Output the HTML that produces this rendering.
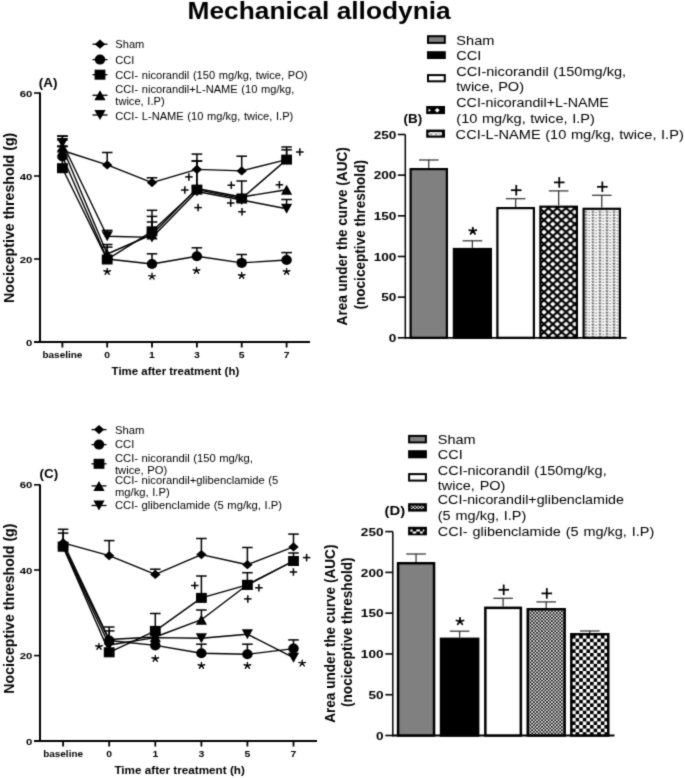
<!DOCTYPE html><html><head><meta charset="utf-8"><style>html,body{margin:0;padding:0;background:#fff;}svg{display:block}</style></head><body>
<svg width="685" height="778" viewBox="0 0 685 778" font-family="Liberation Sans, sans-serif">
<defs>
<pattern id="pxh" patternUnits="userSpaceOnUse" width="8.8" height="8" x="544.0" y="248.1"><rect width="8.8" height="8" fill="#000"/><polygon points="1.65,4 4.4,1.55 7.15,4 4.4,6.45" fill="#fff"/><polygon points="-2.75,0 0,-2.45 2.75,0 0,2.45" fill="#fff"/><polygon points="6.05,0 8.8,-2.45 11.55,0 8.8,2.45" fill="#fff"/><polygon points="-2.75,8 0,5.55 2.75,8 0,10.45" fill="#fff"/><polygon points="6.05,8 8.8,5.55 11.55,8 8.8,10.45" fill="#fff"/></pattern>
<pattern id="pdot" patternUnits="userSpaceOnUse" width="7.05" height="6.1" x="584" y="250"><rect width="7.05" height="6.1" fill="#fff"/><path d="M0.6,0.6 L1.8,2.3 L3.0,0.6 M0.6,3.65 L1.8,5.35 L3.0,3.65 M4.2,2.0 H6.2 M4.2,5.05 H6.2" stroke="#606060" stroke-width="1.0" fill="none"/></pattern>
<pattern id="pfc" patternUnits="userSpaceOnUse" width="3.3" height="3.3"><rect width="3.3" height="3.3" fill="#fff"/><rect width="1.65" height="1.65" fill="#000"/><rect x="1.65" y="1.65" width="1.65" height="1.65" fill="#000"/></pattern>
<pattern id="pcc" patternUnits="userSpaceOnUse" width="7.2" height="7.2" x="572" y="635"><rect width="7.2" height="7.2" fill="#fff"/><rect width="3.6" height="3.6" fill="#000"/><rect x="3.6" y="3.6" width="3.6" height="3.6" fill="#000"/></pattern>
<filter id="soft" x="-1%" y="-1%" width="102%" height="102%" color-interpolation-filters="sRGB"><feConvolveMatrix order="3" kernelMatrix="0.0250 0.1000 0.0250 0.1000 0.5000 0.1000 0.0250 0.1000 0.0250" divisor="1" edgeMode="duplicate" preserveAlpha="true"/></filter>
</defs>
<g filter="url(#soft)"><rect x="-20" y="-20" width="725" height="818" fill="#fff"/>
<text font-size="24.6" font-weight="bold" transform="translate(187.50 18.80) scale(1.07 1)" >Mechanical allodynia</text>
<line x1="40.00" y1="92.50" x2="40.00" y2="342.90" stroke="#000" stroke-width="2.0"/>
<line x1="34.00" y1="342.00" x2="310.00" y2="342.00" stroke="#000" stroke-width="1.8"/>
<line x1="34.00" y1="93.00" x2="40.00" y2="93.00" stroke="#000" stroke-width="1.6"/>
<text font-size="9.7" font-weight="bold" text-anchor="end" transform="translate(32.40 96.60) scale(1.17 1)" >60</text>
<line x1="34.00" y1="176.00" x2="40.00" y2="176.00" stroke="#000" stroke-width="1.6"/>
<text font-size="9.7" font-weight="bold" text-anchor="end" transform="translate(32.40 179.60) scale(1.17 1)" >40</text>
<line x1="34.00" y1="259.00" x2="40.00" y2="259.00" stroke="#000" stroke-width="1.6"/>
<text font-size="9.7" font-weight="bold" text-anchor="end" transform="translate(32.40 262.60) scale(1.17 1)" >20</text>
<line x1="34.00" y1="342.00" x2="40.00" y2="342.00" stroke="#000" stroke-width="1.6"/>
<text font-size="9.7" font-weight="bold" text-anchor="end" transform="translate(32.40 345.60) scale(1.17 1)" >0</text>
<line x1="62.40" y1="342.00" x2="62.40" y2="347.50" stroke="#000" stroke-width="1.8"/>
<text font-size="8.9" font-weight="bold" text-anchor="middle" transform="translate(62.40 357.60) scale(1.12 1)" >baseline</text>
<line x1="107.20" y1="342.00" x2="107.20" y2="347.50" stroke="#000" stroke-width="1.8"/>
<text font-size="8.9" font-weight="bold" text-anchor="middle" transform="translate(107.20 357.60) scale(1.17 1)" >0</text>
<line x1="152.00" y1="342.00" x2="152.00" y2="347.50" stroke="#000" stroke-width="1.8"/>
<text font-size="8.9" font-weight="bold" text-anchor="middle" transform="translate(152.00 357.60) scale(1.17 1)" >1</text>
<line x1="196.90" y1="342.00" x2="196.90" y2="347.50" stroke="#000" stroke-width="1.8"/>
<text font-size="8.9" font-weight="bold" text-anchor="middle" transform="translate(196.90 357.60) scale(1.17 1)" >3</text>
<line x1="241.70" y1="342.00" x2="241.70" y2="347.50" stroke="#000" stroke-width="1.8"/>
<text font-size="8.9" font-weight="bold" text-anchor="middle" transform="translate(241.70 357.60) scale(1.17 1)" >5</text>
<line x1="286.60" y1="342.00" x2="286.60" y2="347.50" stroke="#000" stroke-width="1.8"/>
<text font-size="8.9" font-weight="bold" text-anchor="middle" transform="translate(286.60 357.60) scale(1.17 1)" >7</text>
<text font-size="10.7" font-weight="bold" transform="translate(111.60 374.70) scale(1.07 1)" >Time after treatment (h)</text>
<text font-size="14.2" font-weight="bold" text-anchor="middle" transform="translate(13.80 217.80) scale(1.07 1) rotate(-90)" >Nociceptive threshold (g)</text>
<text font-size="12.6" font-weight="bold" transform="translate(38.80 87.00) scale(1.07 1)" >(A)</text>
<polyline points="62.40,150.50 107.20,164.90 152.00,182.60 196.90,169.40 241.70,170.90 286.60,159.60" fill="none" stroke="#000" stroke-width="1.4" stroke-linejoin="round"/>
<line x1="62.40" y1="150.50" x2="62.40" y2="136.00" stroke="#000" stroke-width="1.5"/>
<line x1="57.10" y1="136.00" x2="67.70" y2="136.00" stroke="#000" stroke-width="1.5"/>
<line x1="107.20" y1="164.90" x2="107.20" y2="152.50" stroke="#000" stroke-width="1.5"/>
<line x1="101.90" y1="152.50" x2="112.50" y2="152.50" stroke="#000" stroke-width="1.5"/>
<line x1="152.00" y1="182.60" x2="152.00" y2="177.80" stroke="#000" stroke-width="1.5"/>
<line x1="146.70" y1="177.80" x2="157.30" y2="177.80" stroke="#000" stroke-width="1.5"/>
<line x1="196.90" y1="169.40" x2="196.90" y2="154.10" stroke="#000" stroke-width="1.5"/>
<line x1="191.60" y1="154.10" x2="202.20" y2="154.10" stroke="#000" stroke-width="1.5"/>
<line x1="241.70" y1="170.90" x2="241.70" y2="156.20" stroke="#000" stroke-width="1.5"/>
<line x1="236.40" y1="156.20" x2="247.00" y2="156.20" stroke="#000" stroke-width="1.5"/>
<line x1="286.60" y1="159.60" x2="286.60" y2="147.00" stroke="#000" stroke-width="1.5"/>
<line x1="281.30" y1="147.00" x2="291.90" y2="147.00" stroke="#000" stroke-width="1.5"/>
<polygon points="57.20,150.50 62.40,145.90 67.60,150.50 62.40,155.10"/>
<polygon points="102.00,164.90 107.20,160.30 112.40,164.90 107.20,169.50"/>
<polygon points="146.80,182.60 152.00,178.00 157.20,182.60 152.00,187.20"/>
<polygon points="191.70,169.40 196.90,164.80 202.10,169.40 196.90,174.00"/>
<polygon points="236.50,170.90 241.70,166.30 246.90,170.90 241.70,175.50"/>
<polygon points="281.40,159.60 286.60,155.00 291.80,159.60 286.60,164.20"/>
<polyline points="62.40,156.50 107.20,259.00 152.00,264.00 196.90,256.30 241.70,262.90 286.60,260.00" fill="none" stroke="#000" stroke-width="1.4" stroke-linejoin="round"/>
<line x1="62.40" y1="156.50" x2="62.40" y2="146.00" stroke="#000" stroke-width="1.5"/>
<line x1="57.10" y1="146.00" x2="67.70" y2="146.00" stroke="#000" stroke-width="1.5"/>
<line x1="152.00" y1="264.00" x2="152.00" y2="253.80" stroke="#000" stroke-width="1.5"/>
<line x1="146.70" y1="253.80" x2="157.30" y2="253.80" stroke="#000" stroke-width="1.5"/>
<line x1="196.90" y1="256.30" x2="196.90" y2="247.80" stroke="#000" stroke-width="1.5"/>
<line x1="191.60" y1="247.80" x2="202.20" y2="247.80" stroke="#000" stroke-width="1.5"/>
<line x1="241.70" y1="262.90" x2="241.70" y2="254.50" stroke="#000" stroke-width="1.5"/>
<line x1="236.40" y1="254.50" x2="247.00" y2="254.50" stroke="#000" stroke-width="1.5"/>
<line x1="286.60" y1="260.00" x2="286.60" y2="252.60" stroke="#000" stroke-width="1.5"/>
<line x1="281.30" y1="252.60" x2="291.90" y2="252.60" stroke="#000" stroke-width="1.5"/>
<ellipse cx="62.40" cy="156.50" rx="5.20" ry="5.00"/>
<ellipse cx="107.20" cy="259.00" rx="5.20" ry="5.00"/>
<ellipse cx="152.00" cy="264.00" rx="5.20" ry="5.00"/>
<ellipse cx="196.90" cy="256.30" rx="5.20" ry="5.00"/>
<ellipse cx="241.70" cy="262.90" rx="5.20" ry="5.00"/>
<ellipse cx="286.60" cy="260.00" rx="5.20" ry="5.00"/>
<polyline points="62.40,147.50 107.20,254.00 152.00,234.50 196.90,188.50 241.70,197.00 286.60,189.70" fill="none" stroke="#000" stroke-width="1.4" stroke-linejoin="round"/>
<line x1="62.40" y1="147.50" x2="62.40" y2="140.00" stroke="#000" stroke-width="1.5"/>
<line x1="57.10" y1="140.00" x2="67.70" y2="140.00" stroke="#000" stroke-width="1.5"/>
<line x1="107.20" y1="254.00" x2="107.20" y2="244.50" stroke="#000" stroke-width="1.5"/>
<line x1="101.90" y1="244.50" x2="112.50" y2="244.50" stroke="#000" stroke-width="1.5"/>
<line x1="152.00" y1="234.50" x2="152.00" y2="216.40" stroke="#000" stroke-width="1.5"/>
<line x1="146.70" y1="216.40" x2="157.30" y2="216.40" stroke="#000" stroke-width="1.5"/>
<line x1="196.90" y1="188.50" x2="196.90" y2="161.00" stroke="#000" stroke-width="1.5"/>
<line x1="191.60" y1="161.00" x2="202.20" y2="161.00" stroke="#000" stroke-width="1.5"/>
<polygon points="56.80,152.50 62.40,142.50 68.00,152.50"/>
<polygon points="101.60,259.00 107.20,249.00 112.80,259.00"/>
<polygon points="146.40,239.50 152.00,229.50 157.60,239.50"/>
<polygon points="191.30,193.50 196.90,183.50 202.50,193.50"/>
<polygon points="236.10,202.00 241.70,192.00 247.30,202.00"/>
<polygon points="281.00,194.70 286.60,184.70 292.20,194.70"/>
<polyline points="62.40,143.00 107.20,236.20 152.00,237.40 196.90,191.50 241.70,200.00 286.60,208.70" fill="none" stroke="#000" stroke-width="1.4" stroke-linejoin="round"/>
<line x1="62.40" y1="143.00" x2="62.40" y2="136.20" stroke="#000" stroke-width="1.5"/>
<line x1="57.10" y1="136.20" x2="67.70" y2="136.20" stroke="#000" stroke-width="1.5"/>
<line x1="107.20" y1="236.20" x2="107.20" y2="230.40" stroke="#000" stroke-width="1.5"/>
<line x1="101.90" y1="230.40" x2="112.50" y2="230.40" stroke="#000" stroke-width="1.5"/>
<line x1="152.00" y1="237.40" x2="152.00" y2="222.00" stroke="#000" stroke-width="1.5"/>
<line x1="146.70" y1="222.00" x2="157.30" y2="222.00" stroke="#000" stroke-width="1.5"/>
<line x1="286.60" y1="208.70" x2="286.60" y2="199.50" stroke="#000" stroke-width="1.5"/>
<line x1="281.30" y1="199.50" x2="291.90" y2="199.50" stroke="#000" stroke-width="1.5"/>
<polygon points="56.80,138.00 62.40,148.00 68.00,138.00"/>
<polygon points="101.60,231.20 107.20,241.20 112.80,231.20"/>
<polygon points="146.40,232.40 152.00,242.40 157.60,232.40"/>
<polygon points="191.30,186.50 196.90,196.50 202.50,186.50"/>
<polygon points="236.10,195.00 241.70,205.00 247.30,195.00"/>
<polygon points="281.00,203.70 286.60,213.70 292.20,203.70"/>
<polyline points="62.40,168.20 107.20,259.50 152.00,231.30 196.90,189.60 241.70,198.50 286.60,159.60" fill="none" stroke="#000" stroke-width="1.4" stroke-linejoin="round"/>
<line x1="62.40" y1="168.20" x2="62.40" y2="146.60" stroke="#000" stroke-width="1.5"/>
<line x1="57.10" y1="146.60" x2="67.70" y2="146.60" stroke="#000" stroke-width="1.5"/>
<line x1="107.20" y1="259.50" x2="107.20" y2="247.10" stroke="#000" stroke-width="1.5"/>
<line x1="101.90" y1="247.10" x2="112.50" y2="247.10" stroke="#000" stroke-width="1.5"/>
<line x1="152.00" y1="231.30" x2="152.00" y2="210.30" stroke="#000" stroke-width="1.5"/>
<line x1="146.70" y1="210.30" x2="157.30" y2="210.30" stroke="#000" stroke-width="1.5"/>
<line x1="196.90" y1="189.60" x2="196.90" y2="161.00" stroke="#000" stroke-width="1.5"/>
<line x1="191.60" y1="161.00" x2="202.20" y2="161.00" stroke="#000" stroke-width="1.5"/>
<line x1="241.70" y1="198.50" x2="241.70" y2="181.00" stroke="#000" stroke-width="1.5"/>
<line x1="236.40" y1="181.00" x2="247.00" y2="181.00" stroke="#000" stroke-width="1.5"/>
<line x1="286.60" y1="159.60" x2="286.60" y2="149.80" stroke="#000" stroke-width="1.5"/>
<line x1="281.30" y1="149.80" x2="291.90" y2="149.80" stroke="#000" stroke-width="1.5"/>
<rect x="57.00" y="163.20" width="10.80" height="10.00"/>
<rect x="101.80" y="254.50" width="10.80" height="10.00"/>
<rect x="146.60" y="226.30" width="10.80" height="10.00"/>
<rect x="191.50" y="184.60" width="10.80" height="10.00"/>
<rect x="236.30" y="193.50" width="10.80" height="10.00"/>
<rect x="281.20" y="154.60" width="10.80" height="10.00"/>
<path d="M107.20,271.50L107.20,268.40M107.20,271.50L103.90,270.75M107.20,271.50L110.50,270.75M107.20,271.50L105.10,274.25M107.20,271.50L109.30,274.25" stroke="#000" stroke-width="1.3" stroke-linecap="round" fill="none"/>
<path d="M152.00,276.30L152.00,273.20M152.00,276.30L148.70,275.55M152.00,276.30L155.30,275.55M152.00,276.30L149.90,279.05M152.00,276.30L154.10,279.05" stroke="#000" stroke-width="1.3" stroke-linecap="round" fill="none"/>
<path d="M196.50,270.50L196.50,267.40M196.50,270.50L193.20,269.75M196.50,270.50L199.80,269.75M196.50,270.50L194.40,273.25M196.50,270.50L198.60,273.25" stroke="#000" stroke-width="1.3" stroke-linecap="round" fill="none"/>
<path d="M241.70,275.50L241.70,272.40M241.70,275.50L238.40,274.75M241.70,275.50L245.00,274.75M241.70,275.50L239.60,278.25M241.70,275.50L243.80,278.25" stroke="#000" stroke-width="1.3" stroke-linecap="round" fill="none"/>
<path d="M286.60,271.50L286.60,268.40M286.60,271.50L283.30,270.75M286.60,271.50L289.90,270.75M286.60,271.50L284.50,274.25M286.60,271.50L288.70,274.25" stroke="#000" stroke-width="1.3" stroke-linecap="round" fill="none"/>
<line x1="185.15" y1="176.90" x2="192.65" y2="176.90" stroke="#000" stroke-width="1.5"/>
<line x1="188.90" y1="173.15" x2="188.90" y2="180.65" stroke="#000" stroke-width="1.5"/>
<line x1="181.05" y1="190.00" x2="188.55" y2="190.00" stroke="#000" stroke-width="1.5"/>
<line x1="184.80" y1="186.25" x2="184.80" y2="193.75" stroke="#000" stroke-width="1.5"/>
<line x1="194.35" y1="207.60" x2="201.85" y2="207.60" stroke="#000" stroke-width="1.5"/>
<line x1="198.10" y1="203.85" x2="198.10" y2="211.35" stroke="#000" stroke-width="1.5"/>
<line x1="227.55" y1="185.20" x2="235.05" y2="185.20" stroke="#000" stroke-width="1.5"/>
<line x1="231.30" y1="181.45" x2="231.30" y2="188.95" stroke="#000" stroke-width="1.5"/>
<line x1="226.95" y1="203.00" x2="234.45" y2="203.00" stroke="#000" stroke-width="1.5"/>
<line x1="230.70" y1="199.25" x2="230.70" y2="206.75" stroke="#000" stroke-width="1.5"/>
<line x1="238.25" y1="211.80" x2="245.75" y2="211.80" stroke="#000" stroke-width="1.5"/>
<line x1="242.00" y1="208.05" x2="242.00" y2="215.55" stroke="#000" stroke-width="1.5"/>
<line x1="296.05" y1="152.00" x2="303.55" y2="152.00" stroke="#000" stroke-width="1.5"/>
<line x1="299.80" y1="148.25" x2="299.80" y2="155.75" stroke="#000" stroke-width="1.5"/>
<line x1="275.65" y1="184.80" x2="283.15" y2="184.80" stroke="#000" stroke-width="1.5"/>
<line x1="279.40" y1="181.05" x2="279.40" y2="188.55" stroke="#000" stroke-width="1.5"/>
<line x1="92.50" y1="44.20" x2="107.50" y2="44.20" stroke="#000" stroke-width="1.3"/>
<polygon points="94.80,44.20 100.00,39.60 105.20,44.20 100.00,48.80"/>
<line x1="92.50" y1="59.60" x2="107.50" y2="59.60" stroke="#000" stroke-width="1.3"/>
<ellipse cx="100.00" cy="59.60" rx="5.20" ry="5.00"/>
<line x1="92.50" y1="74.70" x2="107.50" y2="74.70" stroke="#000" stroke-width="1.3"/>
<rect x="94.60" y="69.70" width="10.80" height="10.00"/>
<line x1="92.50" y1="95.30" x2="107.50" y2="95.30" stroke="#000" stroke-width="1.3"/>
<polygon points="94.40,100.30 100.00,90.30 105.60,100.30"/>
<line x1="92.50" y1="115.00" x2="107.50" y2="115.00" stroke="#000" stroke-width="1.3"/>
<polygon points="94.40,110.00 100.00,120.00 105.60,110.00"/>
<text font-size="10.3" word-spacing="0.5" transform="translate(115.30 48.00) scale(1.08 1)" >Sham</text>
<text font-size="10.3" word-spacing="0.5" transform="translate(115.30 63.70) scale(1.08 1)" >CCI</text>
<text font-size="10.3" word-spacing="0.5" transform="translate(115.30 79.10) scale(1.08 1)" >CCI- nicorandil (150 mg/kg, twice, PO)</text>
<text font-size="10.3" word-spacing="0.5" transform="translate(115.30 93.20) scale(1.08 1)" >CCI- nicorandil+L-NAME (10 mg/kg,</text>
<text font-size="10.3" word-spacing="0.5" transform="translate(115.30 105.30) scale(1.08 1)" >twice, I.P)</text>
<text font-size="10.3" word-spacing="0.5" transform="translate(115.30 119.90) scale(1.08 1)" >CCI- L-NAME (10 mg/kg, twice, I.P)</text>
<line x1="40.00" y1="484.60" x2="40.00" y2="741.90" stroke="#000" stroke-width="2.0"/>
<line x1="34.00" y1="741.00" x2="317.00" y2="741.00" stroke="#000" stroke-width="1.8"/>
<line x1="34.00" y1="484.80" x2="40.00" y2="484.80" stroke="#000" stroke-width="1.6"/>
<text font-size="9.7" font-weight="bold" text-anchor="end" transform="translate(32.40 488.40) scale(1.17 1)" >60</text>
<line x1="34.00" y1="570.00" x2="40.00" y2="570.00" stroke="#000" stroke-width="1.6"/>
<text font-size="9.7" font-weight="bold" text-anchor="end" transform="translate(32.40 573.60) scale(1.17 1)" >40</text>
<line x1="34.00" y1="655.60" x2="40.00" y2="655.60" stroke="#000" stroke-width="1.6"/>
<text font-size="9.7" font-weight="bold" text-anchor="end" transform="translate(32.40 659.20) scale(1.17 1)" >20</text>
<line x1="34.00" y1="741.00" x2="40.00" y2="741.00" stroke="#000" stroke-width="1.6"/>
<text font-size="9.7" font-weight="bold" text-anchor="end" transform="translate(32.40 744.60) scale(1.17 1)" >0</text>
<line x1="63.10" y1="741.00" x2="63.10" y2="746.50" stroke="#000" stroke-width="1.8"/>
<text font-size="8.9" font-weight="bold" text-anchor="middle" transform="translate(63.10 757.00) scale(1.12 1)" >baseline</text>
<line x1="109.20" y1="741.00" x2="109.20" y2="746.50" stroke="#000" stroke-width="1.8"/>
<text font-size="8.9" font-weight="bold" text-anchor="middle" transform="translate(109.20 757.00) scale(1.17 1)" >0</text>
<line x1="155.30" y1="741.00" x2="155.30" y2="746.50" stroke="#000" stroke-width="1.8"/>
<text font-size="8.9" font-weight="bold" text-anchor="middle" transform="translate(155.30 757.00) scale(1.17 1)" >1</text>
<line x1="201.40" y1="741.00" x2="201.40" y2="746.50" stroke="#000" stroke-width="1.8"/>
<text font-size="8.9" font-weight="bold" text-anchor="middle" transform="translate(201.40 757.00) scale(1.17 1)" >3</text>
<line x1="247.40" y1="741.00" x2="247.40" y2="746.50" stroke="#000" stroke-width="1.8"/>
<text font-size="8.9" font-weight="bold" text-anchor="middle" transform="translate(247.40 757.00) scale(1.17 1)" >5</text>
<line x1="293.50" y1="741.00" x2="293.50" y2="746.50" stroke="#000" stroke-width="1.8"/>
<text font-size="8.9" font-weight="bold" text-anchor="middle" transform="translate(293.50 757.00) scale(1.17 1)" >7</text>
<text font-size="10.7" font-weight="bold" transform="translate(114.40 774.00) scale(1.095 1)" >Time after treatment (h)</text>
<text font-size="14.2" font-weight="bold" text-anchor="middle" transform="translate(13.60 608.60) scale(1.07 1) rotate(-90)" >Nociceptive threshold (g)</text>
<text font-size="12.6" font-weight="bold" transform="translate(39.60 477.80) scale(1.07 1)" >(C)</text>
<polyline points="63.10,542.50 109.20,639.50 155.30,637.00 201.40,619.70 247.40,584.80 293.50,561.00" fill="none" stroke="#000" stroke-width="1.4" stroke-linejoin="round"/>
<line x1="63.10" y1="542.50" x2="63.10" y2="533.10" stroke="#000" stroke-width="1.5"/>
<line x1="57.80" y1="533.10" x2="68.40" y2="533.10" stroke="#000" stroke-width="1.5"/>
<line x1="109.20" y1="639.50" x2="109.20" y2="630.90" stroke="#000" stroke-width="1.5"/>
<line x1="103.90" y1="630.90" x2="114.50" y2="630.90" stroke="#000" stroke-width="1.5"/>
<line x1="201.40" y1="619.70" x2="201.40" y2="610.00" stroke="#000" stroke-width="1.5"/>
<line x1="196.10" y1="610.00" x2="206.70" y2="610.00" stroke="#000" stroke-width="1.5"/>
<polygon points="57.50,547.50 63.10,537.50 68.70,547.50"/>
<polygon points="103.60,644.50 109.20,634.50 114.80,644.50"/>
<polygon points="149.70,642.00 155.30,632.00 160.90,642.00"/>
<polygon points="195.80,624.70 201.40,614.70 207.00,624.70"/>
<polygon points="241.80,589.80 247.40,579.80 253.00,589.80"/>
<polygon points="287.90,566.00 293.50,556.00 299.10,566.00"/>
<polyline points="63.10,547.00 109.20,645.00 155.30,637.60 201.40,638.20 247.40,634.20 293.50,657.70" fill="none" stroke="#000" stroke-width="1.4" stroke-linejoin="round"/>
<polygon points="57.50,542.00 63.10,552.00 68.70,542.00"/>
<polygon points="103.60,640.00 109.20,650.00 114.80,640.00"/>
<polygon points="149.70,632.60 155.30,642.60 160.90,632.60"/>
<polygon points="195.80,633.20 201.40,643.20 207.00,633.20"/>
<polygon points="241.80,629.20 247.40,639.20 253.00,629.20"/>
<polygon points="287.90,652.70 293.50,662.70 299.10,652.70"/>
<polyline points="63.10,545.50 109.20,640.50 155.30,645.40 201.40,653.30 247.40,654.30 293.50,648.60" fill="none" stroke="#000" stroke-width="1.4" stroke-linejoin="round"/>
<line x1="109.20" y1="640.50" x2="109.20" y2="627.00" stroke="#000" stroke-width="1.5"/>
<line x1="103.90" y1="627.00" x2="114.50" y2="627.00" stroke="#000" stroke-width="1.5"/>
<line x1="201.40" y1="653.30" x2="201.40" y2="644.20" stroke="#000" stroke-width="1.5"/>
<line x1="196.10" y1="644.20" x2="206.70" y2="644.20" stroke="#000" stroke-width="1.5"/>
<line x1="247.40" y1="654.30" x2="247.40" y2="644.20" stroke="#000" stroke-width="1.5"/>
<line x1="242.10" y1="644.20" x2="252.70" y2="644.20" stroke="#000" stroke-width="1.5"/>
<line x1="293.50" y1="648.60" x2="293.50" y2="639.90" stroke="#000" stroke-width="1.5"/>
<line x1="288.20" y1="639.90" x2="298.80" y2="639.90" stroke="#000" stroke-width="1.5"/>
<ellipse cx="63.10" cy="545.50" rx="5.20" ry="5.00"/>
<ellipse cx="109.20" cy="640.50" rx="5.20" ry="5.00"/>
<ellipse cx="155.30" cy="645.40" rx="5.20" ry="5.00"/>
<ellipse cx="201.40" cy="653.30" rx="5.20" ry="5.00"/>
<ellipse cx="247.40" cy="654.30" rx="5.20" ry="5.00"/>
<ellipse cx="293.50" cy="648.60" rx="5.20" ry="5.00"/>
<polyline points="63.10,542.80 109.20,555.70 155.30,574.40 201.40,554.60 247.40,564.70 293.50,546.90" fill="none" stroke="#000" stroke-width="1.4" stroke-linejoin="round"/>
<line x1="63.10" y1="542.80" x2="63.10" y2="529.30" stroke="#000" stroke-width="1.5"/>
<line x1="57.80" y1="529.30" x2="68.40" y2="529.30" stroke="#000" stroke-width="1.5"/>
<line x1="109.20" y1="555.70" x2="109.20" y2="540.60" stroke="#000" stroke-width="1.5"/>
<line x1="103.90" y1="540.60" x2="114.50" y2="540.60" stroke="#000" stroke-width="1.5"/>
<line x1="155.30" y1="574.40" x2="155.30" y2="569.20" stroke="#000" stroke-width="1.5"/>
<line x1="150.00" y1="569.20" x2="160.60" y2="569.20" stroke="#000" stroke-width="1.5"/>
<line x1="201.40" y1="554.60" x2="201.40" y2="538.50" stroke="#000" stroke-width="1.5"/>
<line x1="196.10" y1="538.50" x2="206.70" y2="538.50" stroke="#000" stroke-width="1.5"/>
<line x1="247.40" y1="564.70" x2="247.40" y2="547.50" stroke="#000" stroke-width="1.5"/>
<line x1="242.10" y1="547.50" x2="252.70" y2="547.50" stroke="#000" stroke-width="1.5"/>
<line x1="293.50" y1="546.90" x2="293.50" y2="534.10" stroke="#000" stroke-width="1.5"/>
<line x1="288.20" y1="534.10" x2="298.80" y2="534.10" stroke="#000" stroke-width="1.5"/>
<polygon points="57.90,542.80 63.10,538.20 68.30,542.80 63.10,547.40"/>
<polygon points="104.00,555.70 109.20,551.10 114.40,555.70 109.20,560.30"/>
<polygon points="150.10,574.40 155.30,569.80 160.50,574.40 155.30,579.00"/>
<polygon points="196.20,554.60 201.40,550.00 206.60,554.60 201.40,559.20"/>
<polygon points="242.20,564.70 247.40,560.10 252.60,564.70 247.40,569.30"/>
<polygon points="288.30,546.90 293.50,542.30 298.70,546.90 293.50,551.50"/>
<polyline points="63.10,546.70 109.20,652.30 155.30,630.90 201.40,597.90 247.40,584.80 293.50,561.00" fill="none" stroke="#000" stroke-width="1.4" stroke-linejoin="round"/>
<line x1="155.30" y1="630.90" x2="155.30" y2="613.50" stroke="#000" stroke-width="1.5"/>
<line x1="150.00" y1="613.50" x2="160.60" y2="613.50" stroke="#000" stroke-width="1.5"/>
<line x1="201.40" y1="597.90" x2="201.40" y2="576.00" stroke="#000" stroke-width="1.5"/>
<line x1="196.10" y1="576.00" x2="206.70" y2="576.00" stroke="#000" stroke-width="1.5"/>
<line x1="247.40" y1="584.80" x2="247.40" y2="572.70" stroke="#000" stroke-width="1.5"/>
<line x1="242.10" y1="572.70" x2="252.70" y2="572.70" stroke="#000" stroke-width="1.5"/>
<line x1="293.50" y1="561.00" x2="293.50" y2="553.00" stroke="#000" stroke-width="1.5"/>
<line x1="288.20" y1="553.00" x2="298.80" y2="553.00" stroke="#000" stroke-width="1.5"/>
<rect x="57.70" y="541.70" width="10.80" height="10.00"/>
<rect x="103.80" y="647.30" width="10.80" height="10.00"/>
<rect x="149.90" y="625.90" width="10.80" height="10.00"/>
<rect x="196.00" y="592.90" width="10.80" height="10.00"/>
<rect x="242.00" y="579.80" width="10.80" height="10.00"/>
<rect x="288.10" y="556.00" width="10.80" height="10.00"/>
<path d="M99.00,646.50L99.00,643.40M99.00,646.50L95.70,645.75M99.00,646.50L102.30,645.75M99.00,646.50L96.90,649.25M99.00,646.50L101.10,649.25" stroke="#000" stroke-width="1.3" stroke-linecap="round" fill="none"/>
<path d="M155.30,658.50L155.30,655.40M155.30,658.50L152.00,657.75M155.30,658.50L158.60,657.75M155.30,658.50L153.20,661.25M155.30,658.50L157.40,661.25" stroke="#000" stroke-width="1.3" stroke-linecap="round" fill="none"/>
<path d="M201.40,665.50L201.40,662.40M201.40,665.50L198.10,664.75M201.40,665.50L204.70,664.75M201.40,665.50L199.30,668.25M201.40,665.50L203.50,668.25" stroke="#000" stroke-width="1.3" stroke-linecap="round" fill="none"/>
<path d="M247.40,665.50L247.40,662.40M247.40,665.50L244.10,664.75M247.40,665.50L250.70,664.75M247.40,665.50L245.30,668.25M247.40,665.50L249.50,668.25" stroke="#000" stroke-width="1.3" stroke-linecap="round" fill="none"/>
<path d="M302.20,663.20L302.20,660.10M302.20,663.20L298.90,662.45M302.20,663.20L305.50,662.45M302.20,663.20L300.10,665.95M302.20,663.20L304.30,665.95" stroke="#000" stroke-width="1.3" stroke-linecap="round" fill="none"/>
<line x1="191.05" y1="585.50" x2="198.55" y2="585.50" stroke="#000" stroke-width="1.5"/>
<line x1="194.80" y1="581.75" x2="194.80" y2="589.25" stroke="#000" stroke-width="1.5"/>
<line x1="255.15" y1="587.80" x2="262.65" y2="587.80" stroke="#000" stroke-width="1.5"/>
<line x1="258.90" y1="584.05" x2="258.90" y2="591.55" stroke="#000" stroke-width="1.5"/>
<line x1="244.05" y1="598.90" x2="251.55" y2="598.90" stroke="#000" stroke-width="1.5"/>
<line x1="247.80" y1="595.15" x2="247.80" y2="602.65" stroke="#000" stroke-width="1.5"/>
<line x1="302.85" y1="557.60" x2="310.35" y2="557.60" stroke="#000" stroke-width="1.5"/>
<line x1="306.60" y1="553.85" x2="306.60" y2="561.35" stroke="#000" stroke-width="1.5"/>
<line x1="289.65" y1="572.00" x2="297.15" y2="572.00" stroke="#000" stroke-width="1.5"/>
<line x1="293.40" y1="568.25" x2="293.40" y2="575.75" stroke="#000" stroke-width="1.5"/>
<line x1="91.50" y1="429.60" x2="106.50" y2="429.60" stroke="#000" stroke-width="1.3"/>
<polygon points="93.80,429.60 99.00,425.00 104.20,429.60 99.00,434.20"/>
<line x1="91.50" y1="444.60" x2="106.50" y2="444.60" stroke="#000" stroke-width="1.3"/>
<ellipse cx="99.00" cy="444.60" rx="5.20" ry="5.00"/>
<line x1="91.50" y1="463.80" x2="106.50" y2="463.80" stroke="#000" stroke-width="1.3"/>
<rect x="93.60" y="458.80" width="10.80" height="10.00"/>
<line x1="91.50" y1="485.90" x2="106.50" y2="485.90" stroke="#000" stroke-width="1.3"/>
<polygon points="93.40,490.90 99.00,480.90 104.60,490.90"/>
<line x1="91.50" y1="505.50" x2="106.50" y2="505.50" stroke="#000" stroke-width="1.3"/>
<polygon points="93.40,500.50 99.00,510.50 104.60,500.50"/>
<text font-size="10.4" word-spacing="0.4" transform="translate(115.00 433.50) scale(1.08 1)" >Sham</text>
<text font-size="10.4" word-spacing="0.4" transform="translate(115.00 448.30) scale(1.08 1)" >CCI</text>
<text font-size="10.4" word-spacing="0.4" transform="translate(115.00 461.70) scale(1.08 1)" >CCI- nicorandil (150 mg/kg,</text>
<text font-size="10.4" word-spacing="0.4" transform="translate(115.00 473.90) scale(1.08 1)" >twice, PO)</text>
<text font-size="10.4" word-spacing="0.4" transform="translate(115.00 483.70) scale(1.08 1)" >CCI- nicorandil+glibenclamide (5</text>
<text font-size="10.4" word-spacing="0.4" transform="translate(115.00 496.40) scale(1.08 1)" >mg/kg, I.P)</text>
<text font-size="10.4" word-spacing="0.4" transform="translate(115.00 508.90) scale(1.08 1)" >CCI- glibenclamide (5 mg/kg, I.P)</text>
<line x1="405.30" y1="134.50" x2="405.30" y2="338.70" stroke="#000" stroke-width="1.5"/>
<line x1="405.30" y1="337.80" x2="626.60" y2="337.80" stroke="#000" stroke-width="1.8"/>
<line x1="397.80" y1="337.80" x2="405.30" y2="337.80" stroke="#000" stroke-width="1.6"/>
<text font-size="11.6" font-weight="bold" text-anchor="end" transform="translate(396.40 342.00) scale(1.17 1)" >0</text>
<line x1="397.80" y1="297.14" x2="405.30" y2="297.14" stroke="#000" stroke-width="1.6"/>
<text font-size="11.6" font-weight="bold" text-anchor="end" transform="translate(396.40 301.34) scale(1.17 1)" >50</text>
<line x1="397.80" y1="256.48" x2="405.30" y2="256.48" stroke="#000" stroke-width="1.6"/>
<text font-size="11.6" font-weight="bold" text-anchor="end" transform="translate(396.40 260.68) scale(1.17 1)" >100</text>
<line x1="397.80" y1="215.82" x2="405.30" y2="215.82" stroke="#000" stroke-width="1.6"/>
<text font-size="11.6" font-weight="bold" text-anchor="end" transform="translate(396.40 220.02) scale(1.17 1)" >150</text>
<line x1="397.80" y1="175.16" x2="405.30" y2="175.16" stroke="#000" stroke-width="1.6"/>
<text font-size="11.6" font-weight="bold" text-anchor="end" transform="translate(396.40 179.36) scale(1.17 1)" >200</text>
<line x1="397.80" y1="134.50" x2="405.30" y2="134.50" stroke="#000" stroke-width="1.6"/>
<text font-size="11.6" font-weight="bold" text-anchor="end" transform="translate(396.40 138.70) scale(1.17 1)" >250</text>
<rect x="410.60" y="169.10" width="36.30" height="168.70" fill="#808080" stroke="#000" stroke-width="2.2"/>
<line x1="428.75" y1="168.00" x2="428.75" y2="159.70" stroke="#333" stroke-width="1.25"/>
<line x1="418.95" y1="160.00" x2="438.55" y2="160.00" stroke="#333" stroke-width="1.25"/>
<rect x="453.90" y="249.00" width="37.00" height="88.80" fill="#000" stroke="#000" stroke-width="2.2"/>
<line x1="472.40" y1="247.90" x2="472.40" y2="240.50" stroke="#333" stroke-width="1.25"/>
<line x1="462.60" y1="240.80" x2="482.20" y2="240.80" stroke="#333" stroke-width="1.25"/>
<path d="M472.80,230.90L472.80,227.55M472.80,230.90L469.24,230.09M472.80,230.90L476.36,230.09M472.80,230.90L470.53,233.87M472.80,230.90L475.07,233.87" stroke="#000" stroke-width="1.75" stroke-linecap="round" fill="none"/>
<rect x="497.40" y="208.10" width="36.50" height="129.70" fill="#fff" stroke="#000" stroke-width="2.2"/>
<line x1="515.65" y1="207.00" x2="515.65" y2="198.40" stroke="#333" stroke-width="1.25"/>
<line x1="505.85" y1="198.70" x2="525.45" y2="198.70" stroke="#333" stroke-width="1.25"/>
<line x1="510.95" y1="190.20" x2="521.55" y2="190.20" stroke="#000" stroke-width="1.75"/>
<line x1="516.25" y1="184.90" x2="516.25" y2="195.50" stroke="#000" stroke-width="1.75"/>
<rect x="540.40" y="206.70" width="36.50" height="131.10" fill="url(#pxh)" stroke="#000" stroke-width="2.2"/>
<line x1="558.65" y1="205.60" x2="558.65" y2="190.60" stroke="#333" stroke-width="1.25"/>
<line x1="548.85" y1="190.90" x2="568.45" y2="190.90" stroke="#333" stroke-width="1.25"/>
<line x1="553.95" y1="182.40" x2="564.55" y2="182.40" stroke="#000" stroke-width="1.75"/>
<line x1="559.25" y1="177.10" x2="559.25" y2="187.70" stroke="#000" stroke-width="1.75"/>
<rect x="583.60" y="208.80" width="36.30" height="129.00" fill="url(#pdot)" stroke="#000" stroke-width="2.2"/>
<line x1="601.75" y1="207.70" x2="601.75" y2="195.00" stroke="#333" stroke-width="1.25"/>
<line x1="591.95" y1="195.30" x2="611.55" y2="195.30" stroke="#333" stroke-width="1.25"/>
<line x1="597.05" y1="186.80" x2="607.65" y2="186.80" stroke="#000" stroke-width="1.75"/>
<line x1="602.35" y1="181.50" x2="602.35" y2="192.10" stroke="#000" stroke-width="1.75"/>
<text font-size="13.6" font-weight="bold" text-anchor="middle" transform="translate(347.30 236.30) scale(1.07 1) rotate(-90)" >Area under the curve (AUC)</text>
<text font-size="13.6" font-weight="bold" text-anchor="middle" transform="translate(364.90 234.80) scale(1.07 1) rotate(-90)" >(nociceptive threshold)</text>
<text font-size="12.6" font-weight="bold" transform="translate(403.60 123.00) scale(1.07 1)" >(B)</text>
<rect x="428.00" y="36.20" width="16.8" height="6.70" fill="#808080" stroke="#000" stroke-width="2"/>
<rect x="428.00" y="52.20" width="16.8" height="5.80" fill="#000" stroke="#000" stroke-width="2"/>
<rect x="428.00" y="75.10" width="16.8" height="6.20" fill="#fff" stroke="#000" stroke-width="2"/>
<rect x="427.20" y="107.00" width="16.8" height="6.10" fill="#000" stroke="#000" stroke-width="2"/>
<polygon points="428.6,108.5 430.9,110.2 428.6,111.9" fill="#fff"/><polygon points="434.7,110.2 437.2,108 439.7,110.2 437.2,112.4" fill="#fff"/>
<rect x="427.20" y="130.60" width="16.8" height="6.10" fill="#000" stroke="#000" stroke-width="2"/>
<rect x="428.3" y="132.1" width="13.8" height="3.5" rx="1.5" fill="#f2f2f2"/><path d="M429.5,132.6 l1.6,2.4 l1.6,-2.4 M434.5,132.6 l1.6,2.4 l1.6,-2.4 M439,132.6 l1.4,2.2" stroke="#888" stroke-width="0.8" fill="none"/>
<text font-size="13.5" word-spacing="0.5" transform="translate(456.30 44.80) scale(1.08 1)" >Sham</text>
<text font-size="13.5" word-spacing="0.5" transform="translate(456.30 60.40) scale(1.08 1)" >CCI</text>
<text font-size="13.5" word-spacing="0.5" transform="translate(456.30 76.10) scale(1.08 1)" >CCI-nicorandil (150mg/kg,</text>
<text font-size="13.5" word-spacing="0.5" transform="translate(456.30 91.30) scale(1.08 1)" >twice, PO)</text>
<text font-size="13.5" transform="translate(456.30 107.20) scale(1.058 1)" >CCI-nicorandil+L-NAME</text>
<text font-size="13.5" word-spacing="0.5" transform="translate(456.30 123.00) scale(1.08 1)" >(10 mg/kg, twice, I.P)</text>
<text font-size="13.5" word-spacing="0.5" transform="translate(455.60 138.70) scale(1.08 1)" >CCI-L-NAME (10 mg/kg, twice, I.P)</text>
<line x1="392.80" y1="531.60" x2="392.80" y2="736.40" stroke="#000" stroke-width="1.5"/>
<line x1="392.80" y1="735.50" x2="614.50" y2="735.50" stroke="#000" stroke-width="1.8"/>
<line x1="385.30" y1="735.50" x2="392.80" y2="735.50" stroke="#000" stroke-width="1.6"/>
<text font-size="11.6" font-weight="bold" text-anchor="end" transform="translate(383.50 739.70) scale(1.17 1)" >0</text>
<line x1="385.30" y1="694.72" x2="392.80" y2="694.72" stroke="#000" stroke-width="1.6"/>
<text font-size="11.6" font-weight="bold" text-anchor="end" transform="translate(383.50 698.92) scale(1.17 1)" >50</text>
<line x1="385.30" y1="653.94" x2="392.80" y2="653.94" stroke="#000" stroke-width="1.6"/>
<text font-size="11.6" font-weight="bold" text-anchor="end" transform="translate(383.50 658.14) scale(1.17 1)" >100</text>
<line x1="385.30" y1="613.16" x2="392.80" y2="613.16" stroke="#000" stroke-width="1.6"/>
<text font-size="11.6" font-weight="bold" text-anchor="end" transform="translate(383.50 617.36) scale(1.17 1)" >150</text>
<line x1="385.30" y1="572.38" x2="392.80" y2="572.38" stroke="#000" stroke-width="1.6"/>
<text font-size="11.6" font-weight="bold" text-anchor="end" transform="translate(383.50 576.58) scale(1.17 1)" >200</text>
<line x1="385.30" y1="531.60" x2="392.80" y2="531.60" stroke="#000" stroke-width="1.6"/>
<text font-size="11.6" font-weight="bold" text-anchor="end" transform="translate(383.50 535.80) scale(1.17 1)" >250</text>
<rect x="398.05" y="563.25" width="36.00" height="172.25" fill="#808080" stroke="#000" stroke-width="2.5"/>
<line x1="416.05" y1="562.00" x2="416.05" y2="553.70" stroke="#333" stroke-width="1.25"/>
<line x1="406.25" y1="554.00" x2="425.85" y2="554.00" stroke="#333" stroke-width="1.25"/>
<rect x="441.05" y="638.85" width="37.10" height="96.65" fill="#000" stroke="#000" stroke-width="2.5"/>
<line x1="459.60" y1="637.60" x2="459.60" y2="630.90" stroke="#333" stroke-width="1.25"/>
<line x1="449.80" y1="631.20" x2="469.40" y2="631.20" stroke="#333" stroke-width="1.25"/>
<path d="M460.00,621.30L460.00,617.95M460.00,621.30L456.44,620.49M460.00,621.30L463.56,620.49M460.00,621.30L457.73,624.27M460.00,621.30L462.27,624.27" stroke="#000" stroke-width="1.75" stroke-linecap="round" fill="none"/>
<rect x="485.35" y="607.85" width="35.50" height="127.65" fill="#fff" stroke="#000" stroke-width="2.5"/>
<line x1="503.10" y1="606.60" x2="503.10" y2="598.00" stroke="#333" stroke-width="1.25"/>
<line x1="493.30" y1="598.30" x2="512.90" y2="598.30" stroke="#333" stroke-width="1.25"/>
<line x1="498.40" y1="589.80" x2="509.00" y2="589.80" stroke="#000" stroke-width="1.75"/>
<line x1="503.70" y1="584.50" x2="503.70" y2="595.10" stroke="#000" stroke-width="1.75"/>
<rect x="527.75" y="609.25" width="36.90" height="126.25" fill="url(#pfc)" stroke="#000" stroke-width="2.5"/>
<line x1="546.20" y1="608.00" x2="546.20" y2="601.60" stroke="#333" stroke-width="1.25"/>
<line x1="536.40" y1="601.90" x2="556.00" y2="601.90" stroke="#333" stroke-width="1.25"/>
<line x1="541.50" y1="593.40" x2="552.10" y2="593.40" stroke="#000" stroke-width="1.75"/>
<line x1="546.80" y1="588.10" x2="546.80" y2="598.70" stroke="#000" stroke-width="1.75"/>
<rect x="571.35" y="634.25" width="36.90" height="101.25" fill="url(#pcc)" stroke="#000" stroke-width="2.5"/>
<line x1="589.80" y1="633.00" x2="589.80" y2="630.70" stroke="#333" stroke-width="1.25"/>
<line x1="580.00" y1="631.00" x2="599.60" y2="631.00" stroke="#333" stroke-width="1.25"/>
<text font-size="13.6" font-weight="bold" text-anchor="middle" transform="translate(334.80 633.70) scale(1.07 1) rotate(-90)" >Area under the curve (AUC)</text>
<text font-size="13.6" font-weight="bold" text-anchor="middle" transform="translate(351.70 632.20) scale(1.07 1) rotate(-90)" >(nociceptive threshold)</text>
<text font-size="12.6" font-weight="bold" transform="translate(384.60 514.60) scale(1.18 1)" >(D)</text>
<rect x="409.10" y="435.90" width="16.8" height="6.50" fill="#808080" stroke="#000" stroke-width="2"/>
<rect x="409.10" y="451.20" width="16.8" height="6.10" fill="#000" stroke="#000" stroke-width="2"/>
<rect x="409.10" y="474.10" width="16.8" height="6.50" fill="#fff" stroke="#000" stroke-width="2"/>
<rect x="409.10" y="504.20" width="16.8" height="6.40" fill="#000" stroke="#000" stroke-width="2"/>
<rect x="410.6" y="505.7" width="13.6" height="3.4" fill="url(#pfc)"/>
<rect x="409.10" y="527.80" width="16.8" height="6.50" fill="#000" stroke="#000" stroke-width="2"/>
<path d="M410.3,529.4h2.3v2h-2.3z M416.3,529.4h3.7v2h-3.7z M422.8,529.4h1.5v2h-1.5z M412.6,531.4h3.7v2h-3.7z M420,531.4h2.8v2h-2.8z" fill="#fff"/>
<text font-size="13.4" word-spacing="0.8" transform="translate(437.80 444.40) scale(1.08 1)" >Sham</text>
<text font-size="13.4" word-spacing="0.8" transform="translate(437.80 459.00) scale(1.08 1)" >CCI</text>
<text font-size="13.4" word-spacing="0.8" transform="translate(437.80 474.50) scale(1.08 1)" >CCI-nicorandil (150mg/kg,</text>
<text font-size="13.4" word-spacing="0.8" transform="translate(437.80 490.30) scale(1.08 1)" >twice, PO)</text>
<text font-size="13.4" transform="translate(437.80 504.30) scale(1.067 1)" >CCI-nicorandil+glibenclamide</text>
<text font-size="13.4" word-spacing="0.8" transform="translate(437.80 520.30) scale(1.08 1)" >(5 mg/kg, I.P)</text>
<text font-size="13.4" word-spacing="0.8" transform="translate(437.80 536.40) scale(1.08 1)" >CCI- glibenclamide (5 mg/kg, I.P)</text>
</g></svg></body></html>
